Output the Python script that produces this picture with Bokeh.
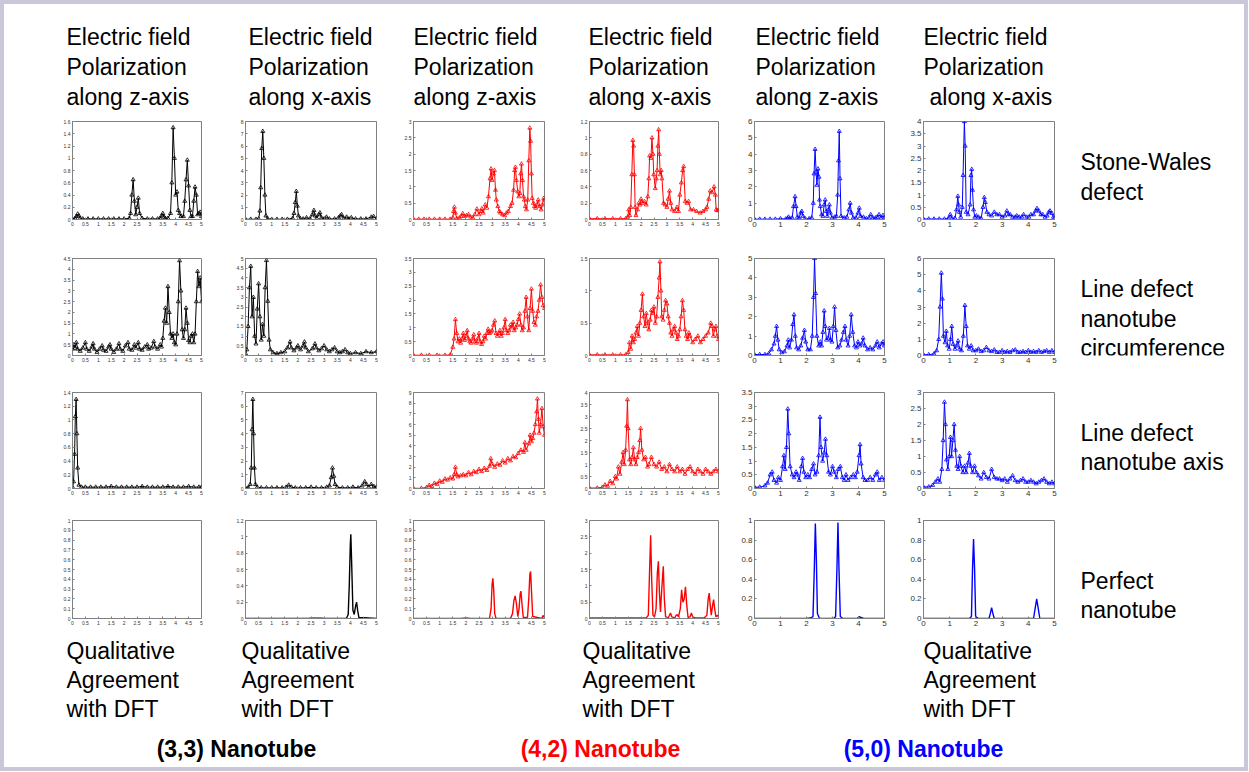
from bokeh.plotting import figure
from bokeh.layouts import row, column
from bokeh.models import Range1d, FixedTicker, NumeralTickFormatter, Label
from bokeh.core.properties import value
from bokeh.embed import file_html
from bokeh.resources import INLINE

FONT = "Liberation Sans"

# ---------------- texts ----------------
col_titles = [
    ["Electric field", "Polarization", "along z-axis"],
    ["Electric field", "Polarization", "along x-axis"],
    ["Electric field", "Polarization", "along z-axis"],
    ["Electric field", "Polarization", "along x-axis"],
    ["Electric field", "Polarization", "along z-axis"],
    ["Electric field", "Polarization", "along x-axis"],
]
row_labels = [
    ["Stone-Wales", "defect"],
    ["Line defect", "nanotube", "circumference"],
    ["Line defect", "nanotube axis"],
    ["Perfect", "nanotube"],
]
agreement_text = ["Qualitative", "Agreement", "with DFT"]
agreement_cols = [0, 1, 3, 5]
nanotube_names = ["(3,3) Nanotube", "(4,2) Nanotube", "(5,0) Nanotube"]
nanotube_colors = ["#000000", "#ff0000", "#0000ff"]
column_colors = ["#000000", "#000000", "#ff0000", "#ff0000", "#0000ff", "#0000ff"]

x_ticks_fine = [0, 0.5, 1, 1.5, 2, 2.5, 3, 3.5, 4, 4.5, 5]
x_ticks_coarse = [0, 1, 2, 3, 4, 5]

# ---------------- data (omega [eV], spectrum in units of the exponent) ----------------
# Row 1: Stone-Wales defect
sw_33_z = [(0,0.01),(0.1,0.02),(0.15,0.05),(0.2,0.09),(0.25,0.06),(0.3,0.02),(0.4,0.01),(0.6,0.01),(0.8,0.01),(1.0,0.01),(1.2,0.01),(1.4,0.01),(1.6,0.01),(1.8,0.01),(2.0,0.01),(2.2,0.02),(2.25,0.1),(2.3,0.4),(2.35,0.65),(2.4,0.3),(2.45,0.08),(2.5,0.2),(2.55,0.35),(2.6,0.1),(2.7,0.02),(2.9,0.01),(3.1,0.01),(3.3,0.01),(3.4,0.02),(3.45,0.06),(3.5,0.1),(3.55,0.04),(3.6,0.02),(3.7,0.02),(3.8,0.1),(3.85,0.6),(3.9,1.5),(3.95,1.0),(4.0,0.4),(4.05,0.45),(4.1,0.15),(4.15,0.1),(4.2,0.05),(4.3,0.05),(4.35,0.3),(4.4,0.65),(4.45,0.97),(4.5,0.55),(4.55,0.15),(4.6,0.05),(4.65,0.05),(4.7,0.3),(4.75,0.53),(4.8,0.4),(4.85,0.08),(4.9,0.1),(4.95,0.12),(5.0,0.05)]
sw_33_x = [(0,0.02),(0.2,0.02),(0.4,0.02),(0.5,0.05),(0.55,0.7),(0.58,2.6),(0.62,5.8),(0.66,7.2),(0.7,5.0),(0.74,2.0),(0.78,0.3),(0.85,0.05),(1.0,0.02),(1.2,0.02),(1.4,0.02),(1.6,0.02),(1.8,0.1),(1.85,0.5),(1.9,1.4),(1.94,2.3),(1.98,1.1),(2.02,0.3),(2.1,0.05),(2.2,0.05),(2.33,0.15),(2.45,0.05),(2.55,0.4),(2.61,0.75),(2.66,0.3),(2.72,0.1),(2.8,0.4),(2.84,0.55),(2.9,0.15),(3.0,0.05),(3.09,0.2),(3.2,0.05),(3.4,0.05),(3.55,0.15),(3.62,0.3),(3.67,0.4),(3.75,0.1),(3.86,0.2),(3.95,0.05),(4.04,0.15),(4.2,0.05),(4.4,0.05),(4.6,0.05),(4.8,0.2),(4.89,0.25),(5.0,0.05)]
sw_42_z = [(0,0.01),(0.2,0.01),(0.4,0.01),(0.6,0.01),(0.8,0.01),(1.0,0.01),(1.2,0.01),(1.4,0.01),(1.5,0.05),(1.53,0.25),(1.56,0.38),(1.6,0.2),(1.65,0.03),(1.75,0.05),(1.82,0.1),(1.88,0.18),(1.95,0.1),(2.02,0.12),(2.1,0.15),(2.18,0.08),(2.26,0.05),(2.34,0.15),(2.42,0.32),(2.5,0.15),(2.56,0.25),(2.61,0.33),(2.66,0.2),(2.74,0.45),(2.8,0.35),(2.86,0.7),(2.92,1.25),(2.96,1.55),(3.0,1.2),(3.05,1.4),(3.09,1.5),(3.13,0.9),(3.16,0.6),(3.22,0.4),(3.28,0.25),(3.32,0.2),(3.4,0.15),(3.48,0.12),(3.55,0.2),(3.62,0.25),(3.7,0.4),(3.76,0.5),(3.82,0.9),(3.86,1.5),(3.89,1.6),(3.93,1.2),(3.98,0.85),(4.02,0.7),(4.06,0.8),(4.09,1.4),(4.12,1.7),(4.16,1.2),(4.2,0.7),(4.23,0.6),(4.27,0.4),(4.31,0.3),(4.36,0.6),(4.4,1.8),(4.44,2.8),(4.47,2.4),(4.5,1.4),(4.53,0.65),(4.58,0.5),(4.62,0.4),(4.66,0.35),(4.71,0.45),(4.76,0.6),(4.82,0.4),(4.87,0.3),(4.92,0.45),(4.97,0.65),(5.0,0.6)]
sw_42_x = [(0,0.01),(0.3,0.01),(0.6,0.01),(0.9,0.01),(1.2,0.01),(1.4,0.01),(1.48,0.03),(1.52,0.12),(1.56,0.05),(1.6,0.15),(1.64,0.55),(1.68,0.97),(1.71,0.9),(1.74,0.55),(1.77,0.15),(1.8,0.05),(1.86,0.12),(1.91,0.2),(1.96,0.18),(2.0,0.25),(2.06,0.2),(2.13,0.22),(2.2,0.18),(2.26,0.28),(2.3,0.5),(2.33,0.78),(2.38,0.75),(2.42,1.0),(2.46,0.8),(2.49,0.55),(2.55,0.38),(2.59,0.5),(2.62,0.6),(2.65,0.9),(2.68,1.1),(2.71,0.8),(2.74,0.55),(2.78,0.6),(2.81,0.5),(2.87,0.2),(2.93,0.18),(3.0,0.15),(3.05,0.25),(3.1,0.35),(3.15,0.2),(3.2,0.12),(3.3,0.1),(3.39,0.15),(3.45,0.1),(3.5,0.3),(3.56,0.45),(3.61,0.6),(3.65,0.65),(3.71,0.22),(3.78,0.2),(3.84,0.22),(3.92,0.12),(4.03,0.12),(4.15,0.1),(4.29,0.08),(4.4,0.1),(4.5,0.12),(4.55,0.15),(4.62,0.25),(4.68,0.35),(4.75,0.33),(4.83,0.4),(4.88,0.3),(4.91,0.12),(4.96,0.11),(5.0,0.11)]
sw_50_z = [(0,0.02),(0.2,0.02),(0.4,0.02),(0.6,0.02),(0.8,0.02),(1.0,0.05),(1.2,0.03),(1.27,0.08),(1.31,0.15),(1.36,0.05),(1.45,0.1),(1.5,0.8),(1.56,1.4),(1.6,0.8),(1.65,0.15),(1.72,0.1),(1.78,0.4),(1.82,0.5),(1.87,0.2),(1.95,0.05),(2.1,0.05),(2.2,0.1),(2.26,1.0),(2.29,2.8),(2.33,4.3),(2.37,2.9),(2.4,2.1),(2.44,3.1),(2.48,2.6),(2.5,1.2),(2.53,0.8),(2.58,0.3),(2.63,0.2),(2.68,0.9),(2.72,1.2),(2.76,0.5),(2.8,0.2),(2.84,0.6),(2.88,0.9),(2.92,0.4),(2.98,0.1),(3.08,0.15),(3.15,0.2),(3.2,1.5),(3.23,3.6),(3.26,5.4),(3.29,2.5),(3.33,0.2),(3.45,0.1),(3.55,0.15),(3.63,0.6),(3.68,1.0),(3.73,0.4),(3.8,0.1),(3.9,0.1),(3.98,0.4),(4.03,0.7),(4.08,0.2),(4.19,0.15),(4.3,0.05),(4.4,0.1),(4.47,0.3),(4.55,0.1),(4.65,0.1),(4.72,0.15),(4.79,0.3),(4.87,0.1),(4.94,0.25),(5.0,0.1)]
sw_50_x = [(0,0.02),(0.2,0.02),(0.4,0.02),(0.6,0.02),(0.8,0.02),(0.95,0.05),(1.02,0.2),(1.08,0.05),(1.2,0.05),(1.26,0.4),(1.31,0.95),(1.34,0.6),(1.37,0.3),(1.42,0.1),(1.48,0.5),(1.51,1.8),(1.56,4.0),(1.59,3.0),(1.63,0.3),(1.7,0.2),(1.78,0.6),(1.81,1.8),(1.84,2.05),(1.87,1.2),(1.91,0.4),(1.96,0.1),(2.02,0.15),(2.1,0.1),(2.2,0.05),(2.27,0.5),(2.32,0.9),(2.36,0.7),(2.42,0.3),(2.5,0.2),(2.6,0.15),(2.7,0.3),(2.8,0.2),(2.9,0.2),(3.0,0.1),(3.1,0.15),(3.18,0.35),(3.25,0.2),(3.31,0.2),(3.4,0.1),(3.5,0.1),(3.56,0.15),(3.65,0.1),(3.75,0.1),(3.82,0.2),(3.94,0.1),(4.02,0.1),(4.1,0.2),(4.2,0.2),(4.28,0.35),(4.33,0.45),(4.4,0.35),(4.48,0.2),(4.55,0.2),(4.64,0.1),(4.72,0.15),(4.78,0.3),(4.83,0.35),(4.9,0.25),(4.96,0.1),(5.0,0.05)]

# Row 2: line defect along circumference
circ_33_z = [(0,0.3),(0.05,0.5),(0.1,0.35),(0.15,0.6),(0.2,0.3),(0.3,0.2),(0.4,0.35),(0.5,0.6),(0.55,0.3),(0.65,0.2),(0.75,0.4),(0.8,0.55),(0.85,0.3),(0.95,0.15),(1.05,0.3),(1.15,0.45),(1.2,0.25),(1.3,0.2),(1.4,0.4),(1.45,0.5),(1.5,0.3),(1.6,0.15),(1.7,0.3),(1.8,0.55),(1.85,0.3),(1.95,0.2),(2.05,0.45),(2.15,0.6),(2.2,0.3),(2.3,0.25),(2.4,0.5),(2.45,0.35),(2.55,0.6),(2.6,0.3),(2.7,0.25),(2.8,0.4),(2.9,0.5),(2.95,0.3),(3.05,0.35),(3.15,0.65),(3.2,0.4),(3.3,0.3),(3.4,0.5),(3.45,0.4),(3.5,0.8),(3.55,1.6),(3.6,2.2),(3.65,1.5),(3.7,3.2),(3.75,2.0),(3.8,1.0),(3.85,0.8),(3.9,1.0),(3.95,0.6),(4.0,0.5),(4.05,1.0),(4.1,2.5),(4.15,4.4),(4.2,3.0),(4.25,1.2),(4.3,0.8),(4.35,1.2),(4.4,2.2),(4.45,1.5),(4.5,0.7),(4.55,0.6),(4.6,0.9),(4.65,1.0),(4.7,0.6),(4.75,1.0),(4.8,2.5),(4.85,3.9),(4.9,3.2),(4.95,3.6),(5.0,2.5)]
circ_33_x = [(0,0.1),(0.05,0.3),(0.1,1.5),(0.15,3.5),(0.2,4.6),(0.25,2.0),(0.3,3.0),(0.35,1.0),(0.4,0.6),(0.45,2.4),(0.5,3.7),(0.55,2.0),(0.6,0.8),(0.65,1.6),(0.7,1.0),(0.75,3.5),(0.8,4.9),(0.85,2.8),(0.9,0.8),(0.95,0.3),(1.05,0.15),(1.2,0.1),(1.35,0.15),(1.5,0.2),(1.6,0.4),(1.7,0.7),(1.75,0.4),(1.85,0.25),(1.95,0.4),(2.0,0.5),(2.1,0.3),(2.2,0.5),(2.25,0.7),(2.3,0.4),(2.4,0.2),(2.55,0.35),(2.65,0.6),(2.7,0.4),(2.8,0.25),(2.9,0.35),(3.0,0.5),(3.1,0.3),(3.2,0.2),(3.3,0.3),(3.4,0.4),(3.5,0.2),(3.6,0.15),(3.7,0.2),(3.8,0.3),(3.9,0.15),(4.0,0.1),(4.2,0.15),(4.4,0.1),(4.6,0.2),(4.8,0.15),(5.0,0.2)]
circ_42_z = [(0,0.01),(0.3,0.01),(0.6,0.01),(0.9,0.01),(1.2,0.01),(1.4,0.02),(1.5,0.3),(1.55,0.6),(1.6,1.3),(1.65,0.8),(1.7,0.5),(1.75,0.6),(1.8,0.45),(1.85,0.6),(1.9,0.8),(1.95,0.55),(2.0,0.7),(2.05,0.9),(2.1,0.6),(2.15,0.5),(2.2,0.45),(2.25,0.6),(2.3,0.75),(2.35,0.5),(2.4,0.45),(2.45,0.6),(2.5,0.8),(2.55,0.5),(2.6,0.4),(2.65,0.5),(2.7,0.7),(2.75,0.6),(2.8,0.8),(2.85,0.95),(2.9,0.8),(2.95,0.85),(3.0,0.9),(3.05,1.1),(3.1,1.25),(3.15,0.8),(3.2,0.7),(3.25,0.8),(3.3,0.9),(3.35,0.7),(3.4,0.8),(3.45,1.0),(3.5,1.3),(3.55,0.9),(3.6,0.8),(3.65,0.9),(3.7,1.1),(3.75,1.0),(3.8,1.2),(3.85,0.9),(3.9,1.0),(3.95,1.1),(4.0,1.3),(4.05,1.5),(4.1,1.1),(4.15,0.9),(4.2,1.0),(4.25,1.6),(4.3,2.1),(4.35,1.4),(4.4,0.9),(4.45,1.7),(4.5,2.4),(4.55,1.6),(4.6,1.2),(4.65,1.1),(4.7,1.4),(4.75,1.6),(4.8,2.0),(4.85,2.55),(4.9,2.1),(4.95,1.8),(5.0,1.7)]
circ_42_x = [(0,0.01),(0.3,0.01),(0.6,0.01),(0.9,0.01),(1.2,0.01),(1.4,0.01),(1.5,0.05),(1.55,0.2),(1.6,0.1),(1.65,0.3),(1.7,0.2),(1.75,0.25),(1.8,0.35),(1.85,0.45),(1.9,0.3),(1.95,0.5),(2.0,0.7),(2.05,0.95),(2.1,0.6),(2.15,0.45),(2.2,0.65),(2.25,0.5),(2.3,0.4),(2.35,0.55),(2.4,0.7),(2.45,0.65),(2.5,0.75),(2.55,0.5),(2.6,0.6),(2.65,0.9),(2.7,1.2),(2.73,1.45),(2.77,1.0),(2.8,0.6),(2.85,0.55),(2.9,0.7),(2.95,0.85),(3.0,0.8),(3.05,0.6),(3.1,0.5),(3.15,0.35),(3.2,0.3),(3.25,0.4),(3.3,0.45),(3.35,0.35),(3.4,0.25),(3.45,0.3),(3.5,0.4),(3.55,0.6),(3.6,0.85),(3.65,0.7),(3.7,0.4),(3.75,0.3),(3.8,0.25),(3.85,0.35),(3.9,0.3),(4.0,0.2),(4.1,0.25),(4.2,0.3),(4.3,0.2),(4.4,0.25),(4.5,0.3),(4.6,0.35),(4.7,0.5),(4.75,0.45),(4.8,0.3),(4.85,0.4),(4.9,0.45),(4.95,0.3),(5.0,0.25)]
circ_50_z = [(0,0.05),(0.2,0.05),(0.4,0.05),(0.55,0.1),(0.65,0.3),(0.75,0.6),(0.8,1.0),(0.85,1.5),(0.9,0.8),(0.95,0.3),(1.05,0.15),(1.15,0.2),(1.25,0.5),(1.3,0.8),(1.35,0.4),(1.42,0.8),(1.47,1.6),(1.52,2.1),(1.57,1.0),(1.62,0.4),(1.7,0.3),(1.78,0.5),(1.85,0.9),(1.92,1.3),(1.97,0.7),(2.05,0.3),(2.15,0.3),(2.22,1.0),(2.27,3.0),(2.31,5.0),(2.35,3.2),(2.4,1.0),(2.47,0.5),(2.53,0.7),(2.58,0.5),(2.63,1.2),(2.68,2.3),(2.72,1.5),(2.77,0.8),(2.83,0.9),(2.88,1.4),(2.93,0.8),(2.98,0.7),(3.03,1.5),(3.08,2.5),(3.13,1.3),(3.2,0.4),(3.28,0.5),(3.35,0.8),(3.42,1.2),(3.48,1.5),(3.53,0.8),(3.6,0.5),(3.66,1.0),(3.72,2.1),(3.78,1.2),(3.85,0.5),(3.92,0.4),(3.98,0.7),(4.05,0.5),(4.12,0.6),(4.18,0.9),(4.25,0.5),(4.35,0.3),(4.45,0.4),(4.55,0.3),(4.65,0.5),(4.72,0.7),(4.8,0.4),(4.88,0.6),(4.95,0.7),(5.0,0.5)]
circ_50_x = [(0,0.05),(0.2,0.05),(0.4,0.1),(0.5,0.3),(0.58,1.0),(0.63,3.0),(0.68,5.1),(0.72,3.5),(0.76,1.2),(0.82,0.8),(0.87,1.5),(0.92,0.6),(0.98,0.4),(1.03,1.0),(1.08,1.8),(1.13,0.7),(1.2,0.4),(1.26,0.6),(1.32,0.9),(1.38,0.4),(1.45,0.3),(1.52,1.2),(1.58,3.1),(1.63,1.8),(1.68,0.6),(1.75,0.4),(1.82,0.6),(1.9,0.3),(2.0,0.3),(2.1,0.4),(2.2,0.25),(2.3,0.3),(2.4,0.5),(2.5,0.3),(2.6,0.25),(2.7,0.35),(2.8,0.2),(2.9,0.2),(3.0,0.3),(3.1,0.2),(3.2,0.25),(3.3,0.2),(3.4,0.3),(3.5,0.35),(3.6,0.2),(3.7,0.2),(3.8,0.25),(3.9,0.2),(4.0,0.3),(4.1,0.2),(4.2,0.25),(4.3,0.2),(4.4,0.3),(4.5,0.2),(4.6,0.25),(4.7,0.3),(4.8,0.2),(4.9,0.3),(5.0,0.2)]

# Row 3: line defect along nanotube axis
axis_33_z = [(0,0.02),(0.04,0.1),(0.08,0.5),(0.11,1.05),(0.14,1.3),(0.17,0.8),(0.2,0.3),(0.25,0.05),(0.35,0.02),(0.5,0.02),(0.7,0.02),(0.9,0.02),(1.1,0.02),(1.3,0.02),(1.5,0.03),(1.7,0.02),(1.9,0.02),(2.1,0.02),(2.3,0.02),(2.5,0.02),(2.7,0.03),(2.9,0.02),(3.1,0.02),(3.3,0.02),(3.5,0.02),(3.7,0.03),(3.9,0.02),(4.1,0.02),(4.3,0.02),(4.5,0.03),(4.7,0.02),(4.9,0.02),(5.0,0.02)]
axis_33_x = [(0,0.05),(0.1,0.05),(0.18,0.3),(0.22,1.5),(0.25,4.3),(0.28,6.5),(0.31,4.0),(0.34,1.5),(0.38,0.3),(0.45,0.1),(0.6,0.05),(0.8,0.05),(1.0,0.05),(1.2,0.05),(1.4,0.05),(1.55,0.1),(1.65,0.25),(1.75,0.1),(1.9,0.05),(2.1,0.05),(2.3,0.05),(2.5,0.1),(2.7,0.05),(2.9,0.05),(3.1,0.1),(3.2,0.2),(3.27,0.8),(3.32,1.5),(3.37,0.9),(3.42,0.3),(3.5,0.1),(3.7,0.05),(3.9,0.05),(4.1,0.1),(4.3,0.05),(4.45,0.2),(4.55,0.5),(4.62,0.3),(4.7,0.1),(4.8,0.3),(4.9,0.15),(5.0,0.1)]
axis_42_z = [(0,0.02),(0.3,0.02),(0.5,0.1),(0.6,0.3),(0.7,0.2),(0.8,0.5),(0.9,0.4),(1.0,0.7),(1.1,0.6),(1.2,0.9),(1.3,0.8),(1.4,1.0),(1.5,0.9),(1.55,1.3),(1.6,2.0),(1.65,1.3),(1.7,1.1),(1.8,1.2),(1.9,1.3),(2.0,1.2),(2.1,1.5),(2.2,1.3),(2.3,1.6),(2.4,1.5),(2.5,1.8),(2.6,1.6),(2.7,1.9),(2.8,1.7),(2.9,2.1),(2.95,2.8),(3.0,2.3),(3.1,2.0),(3.2,2.3),(3.3,2.2),(3.4,2.6),(3.5,2.4),(3.6,2.8),(3.7,2.6),(3.8,3.0),(3.9,2.9),(4.0,3.3),(4.1,3.6),(4.2,3.4),(4.25,4.3),(4.3,3.6),(4.4,4.2),(4.45,5.0),(4.5,4.4),(4.55,4.7),(4.6,5.2),(4.65,6.0),(4.7,7.2),(4.73,8.4),(4.77,6.5),(4.8,5.2),(4.85,6.0),(4.9,7.5),(4.95,5.8),(5.0,5.0)]
axis_42_x = [(0,0.02),(0.3,0.02),(0.5,0.05),(0.6,0.15),(0.7,0.1),(0.8,0.3),(0.9,0.2),(1.0,0.5),(1.05,0.4),(1.12,0.9),(1.18,0.6),(1.25,1.1),(1.3,1.5),(1.35,1.0),(1.4,1.6),(1.44,2.6),(1.47,3.7),(1.5,2.5),(1.55,1.2),(1.6,1.0),(1.65,1.3),(1.7,1.7),(1.75,1.2),(1.8,1.0),(1.85,1.3),(1.9,1.5),(1.95,2.0),(1.98,2.5),(2.03,1.6),(2.1,1.2),(2.17,1.3),(2.25,0.9),(2.3,1.0),(2.4,1.3),(2.5,1.0),(2.6,0.9),(2.7,1.1),(2.8,0.8),(2.9,0.9),(3.0,0.7),(3.1,1.0),(3.2,0.8),(3.3,0.7),(3.4,0.9),(3.5,0.7),(3.6,0.8),(3.7,0.6),(3.8,0.8),(3.9,0.9),(4.0,0.7),(4.1,0.6),(4.2,0.8),(4.3,0.7),(4.4,0.6),(4.5,0.8),(4.6,0.7),(4.7,0.6),(4.8,0.7),(4.9,0.8),(5.0,0.7)]
axis_50_z = [(0,0.05),(0.2,0.05),(0.4,0.1),(0.5,0.2),(0.6,0.5),(0.68,0.6),(0.75,0.3),(0.85,0.2),(0.92,0.4),(1.0,0.3),(1.08,0.8),(1.13,1.2),(1.18,0.7),(1.23,1.5),(1.28,2.9),(1.32,2.0),(1.37,0.8),(1.45,0.5),(1.52,0.4),(1.6,0.6),(1.65,0.5),(1.72,0.3),(1.8,0.8),(1.85,1.1),(1.9,0.6),(1.97,0.4),(2.05,0.5),(2.12,0.4),(2.2,0.7),(2.27,0.9),(2.33,0.5),(2.4,0.6),(2.47,1.2),(2.52,2.6),(2.56,1.5),(2.62,1.0),(2.68,1.3),(2.73,1.8),(2.78,1.2),(2.85,0.6),(2.92,0.5),(3.0,0.8),(3.07,0.6),(3.15,0.4),(3.22,0.7),(3.3,0.8),(3.38,0.4),(3.45,0.3),(3.52,0.5),(3.6,0.3),(3.7,0.4),(3.8,0.5),(3.88,0.4),(3.95,0.6),(4.02,1.2),(4.06,1.6),(4.1,0.9),(4.18,0.4),(4.25,0.3),(4.35,0.3),(4.45,0.4),(4.55,0.3),(4.65,0.5),(4.72,0.6),(4.8,0.3),(4.9,0.4),(5.0,0.3)]
axis_50_x = [(0,0.05),(0.2,0.05),(0.35,0.1),(0.45,0.2),(0.55,0.3),(0.62,0.2),(0.7,0.6),(0.75,1.5),(0.8,2.7),(0.84,2.0),(0.88,0.9),(0.93,0.6),(0.98,1.0),(1.03,1.6),(1.07,1.0),(1.12,1.5),(1.17,2.0),(1.22,1.2),(1.27,0.7),(1.32,0.6),(1.38,1.0),(1.43,0.7),(1.5,0.5),(1.57,0.7),(1.63,0.5),(1.7,0.8),(1.75,1.1),(1.8,0.7),(1.87,0.5),(1.95,0.7),(2.02,0.5),(2.1,0.4),(2.2,0.3),(2.3,0.5),(2.4,0.35),(2.5,0.3),(2.6,0.6),(2.7,0.35),(2.8,0.3),(2.9,0.3),(3.0,0.25),(3.1,0.3),(3.2,0.2),(3.3,0.3),(3.4,0.4),(3.5,0.25),(3.6,0.2),(3.7,0.25),(3.8,0.3),(3.9,0.2),(4.0,0.2),(4.1,0.25),(4.2,0.2),(4.3,0.15),(4.4,0.2),(4.5,0.25),(4.6,0.3),(4.7,0.2),(4.8,0.15),(4.9,0.2),(5.0,0.15)]

# Row 4: perfect nanotube (DFT-like, no markers)
perfect_33_z = []
perfect_33_x = [(0,0),(2.4,0),(2.5,0.005),(2.9,0.005),(3.0,0),(3.85,0),(3.92,0.05),(3.96,0.4),(4.0,0.9),(4.02,1.03),(4.05,0.7),(4.1,0.1),(4.15,0.05),(4.2,0.15),(4.24,0.2),(4.28,0.1),(4.33,0.01),(4.5,0.01),(5.0,0)]
perfect_42_z = [(0,0),(1.8,0),(2.0,0.005),(2.2,0),(2.9,0),(2.96,0.1),(3.0,0.35),(3.03,0.41),(3.06,0.3),(3.1,0.05),(3.15,0),(3.7,0),(3.78,0.05),(3.83,0.18),(3.88,0.23),(3.93,0.15),(3.98,0.02),(4.03,0.1),(4.07,0.25),(4.1,0.28),(4.14,0.15),(4.19,0.01),(4.35,0.01),(4.4,0.2),(4.44,0.45),(4.47,0.48),(4.5,0.3),(4.55,0.02),(4.9,0),(4.94,0.03),(5.0,0.01)]
perfect_42_x = [(0,0.02),(2.0,0.02),(2.2,0.02),(2.28,0.1),(2.33,1.5),(2.37,2.55),(2.41,1.2),(2.46,0.1),(2.52,0.05),(2.58,0.3),(2.63,1.4),(2.67,1.75),(2.71,0.8),(2.75,0.2),(2.8,0.9),(2.86,1.6),(2.9,0.6),(2.95,0.05),(3.05,0.02),(3.1,0.1),(3.14,0.17),(3.19,0.05),(3.3,0.02),(3.36,0.1),(3.4,0.12),(3.45,0.05),(3.52,0.3),(3.57,0.88),(3.62,0.5),(3.67,0.6),(3.72,0.97),(3.77,0.4),(3.82,0.03),(3.9,0.05),(3.95,0.17),(4.0,0.05),(4.1,0.02),(4.45,0.02),(4.55,0.1),(4.6,0.6),(4.64,0.78),(4.68,0.4),(4.72,0.1),(4.77,0.4),(4.81,0.58),(4.85,0.3),(4.9,0.05),(4.96,0.1),(5.0,0.05)]
perfect_50_z = [(0,0),(2.0,0),(2.15,0.005),(2.25,0.02),(2.3,0.5),(2.34,0.97),(2.38,0.6),(2.42,0.05),(2.5,0),(3.05,0),(3.12,0.02),(3.17,0.5),(3.21,0.98),(3.25,0.5),(3.3,0.02),(3.4,0),(3.95,0),(4.03,0.02),(4.1,0.01),(4.2,0),(5.0,0)]
perfect_50_x = [(0,0),(1.75,0),(1.83,0.02),(1.87,0.5),(1.91,0.81),(1.95,0.5),(1.99,0.02),(2.1,0),(2.5,0),(2.55,0.05),(2.6,0.11),(2.65,0.05),(2.7,0),(4.2,0),(4.26,0.1),(4.32,0.2),(4.38,0.1),(4.44,0),(5.0,0)]

# y-axis limits, y-tick step and exponent label per panel
y_max = [[1.6, 8, 3, 1.2, 6, 4],
         [4.5, 5, 3.5, 1.5, 5, 6],
         [1.4, 7, 9, 4, 3.5, 3],
         [1, 1.2, 1, 3, 1, 1]]
y_step = [[0.2, 1, 0.5, 0.2, 1, 0.5],
          [0.5, 0.5, 0.5, 0.5, 1, 1],
          [0.2, 1, 1, 0.5, 0.5, 0.5],
          [0.1, 0.2, 0.1, 0.5, 0.2, 0.2]]
exponents = [["x 10⁻⁷", "x 10⁻⁸", "x 10⁻⁷", "x 10⁻⁸", "x 10⁻⁷", "x 10⁻⁶"],
             ["x 10⁻⁸", "x 10⁻⁸", "x 10⁻⁷", "x 10⁻⁸", "x 10⁻⁷", "x 10⁻⁶"],
             ["x 10⁻⁶", "x 10⁻⁸", "x 10⁻⁸", "x 10⁻⁸", "x 10⁻⁷", "x 10⁻⁶"],
             ["x 10⁻⁸", "x 10⁻⁸", "x 10⁻⁸", "x 10⁻⁸", "x 10⁻⁶", "x 10⁻⁵"]]

panels = [[sw_33_z, sw_33_x, sw_42_z, sw_42_x, sw_50_z, sw_50_x],
          [circ_33_z, circ_33_x, circ_42_z, circ_42_x, circ_50_z, circ_50_x],
          [axis_33_z, axis_33_x, axis_42_z, axis_42_x, axis_50_z, axis_50_x],
          [perfect_33_z, perfect_33_x, perfect_42_z, perfect_42_x, perfect_50_z, perfect_50_x]]

# ---------------- geometry (page pixels) ----------------
BORDER = 4
X0, Y0 = BORDER, BORDER
fig_x = [X0, 225, 395, 565, 736, 903, 1070, 1244]
frame_x = [(72, 201), (245, 376), (413, 544), (589, 718), (754, 884), (923, 1054)]
row_y = [110, 245, 380, 508, 636]
Y_END = 767
frame_y_small = [(121, 222), (258, 357), (392, 491), (520, 621)]
frame_y_big = [(121, 219), (257, 355), (390, 488), (520, 618)]
TOTAL_W = fig_x[-1] - X0
HEADER_H = row_y[0] - Y0
BOTTOM_H = Y_END - row_y[4]
AXIS_GREY = "#808080"


def text_fig(w, h, top=0, bottom=0, y0=0):
    # y range expressed in page pixels (top of frame = y0 + top)
    p = figure(width=w, height=h, x_range=Range1d(0, w),
               y_range=Range1d(y0 + h - bottom, y0 + top),
               x_axis_type=None, y_axis_type=None, toolbar_location=None,
               output_backend="svg", min_border=0,
               min_border_top=top, min_border_bottom=bottom)
    p.outline_line_color = None
    p.grid.visible = False
    return p


def yticks(ymax, step):
    n = int(round(ymax / step))
    return [round(i * step, 6) for i in range(n + 1)]


def panel(r, c):
    big = c >= 4
    fy = frame_y_big[r] if big else frame_y_small[r]
    w = fig_x[c + 1] - fig_x[c]
    h = row_y[r + 1] - row_y[r]
    p = figure(width=w, height=h, toolbar_location=None, output_backend="svg",
               x_range=Range1d(0, 5), y_range=Range1d(0, y_max[r][c]),
               min_border_left=frame_x[c][0] - fig_x[c],
               min_border_right=fig_x[c + 1] - frame_x[c][1],
               min_border_top=fy[0] - row_y[r],
               min_border_bottom=row_y[r + 1] - fy[1])
    p.grid.visible = False
    p.outline_line_color = AXIS_GREY
    p.background_fill_color = "white"
    fs = "8px" if big else "5px"
    p.xaxis.ticker = FixedTicker(ticks=x_ticks_coarse if big else x_ticks_fine)
    p.yaxis.ticker = FixedTicker(ticks=yticks(y_max[r][c], y_step[r][c]))
    for ax in (p.xaxis[0], p.yaxis[0]):
        ax.formatter = NumeralTickFormatter(format="0.[0]")
        ax.major_label_text_font = FONT
        ax.major_label_text_font_size = fs
        ax.major_label_text_color = "#333333"
        ax.major_label_standoff = 2
        ax.major_tick_in = 2
        ax.major_tick_out = 0
        ax.minor_tick_line_color = None
        ax.axis_line_color = AXIS_GREY
        ax.major_tick_line_color = AXIS_GREY
    data = panels[r][c]
    color = column_colors[c]
    if data:
        xs = [d[0] for d in data]
        ys = [d[1] for d in data]
        if r < 3:
            p.line(xs, ys, line_color=color, line_width=1)
            p.scatter(xs, ys, marker="triangle", size=4, fill_color=None,
                      line_color=color, line_width=0.8)
        else:
            p.line(xs, ys, line_color=color, line_width=1.4)
    p.add_layout(Label(x=0, y=y_max[r][c], text=exponents[r][c], y_offset=1,
                       text_font=FONT, text_font_size="7px" if big else "5px",
                       text_baseline="bottom", text_align="left", text_color="#333333"))
    if big:
        p.add_layout(Label(x=2.5, y=0, text="ω [eV]", y_offset=-11,
                           text_font=FONT, text_font_size="10px",
                           text_baseline="middle", text_align="center", text_color="#222222"))
    return p


# ---------------- header ----------------
header = text_fig(TOTAL_W, HEADER_H, y0=Y0)
head_x = [66, 248, 413, 588, 755, 923]
hx, hy, ht = [], [], []
for c, lines in enumerate(col_titles):
    for k, t in enumerate(lines):
        shift = 6 if (c == 5 and k == 2) else 0
        hx.append(head_x[c] + shift - X0)
        hy.append(36 + 30 * k)
        ht.append(t)
header.text(x=hx, y=hy, text=ht, text_font=value(FONT), text_font_size="23px",
            text_baseline="middle", text_align="left", text_color="black")

# ---------------- plot rows ----------------
label_line_y = [[161, 191], [288, 318, 347], [431, 461], [580, 609]]
rows = []
for r in range(4):
    figs = [panel(r, c) for c in range(6)]
    h = row_y[r + 1] - row_y[r]
    fy = frame_y_big[r]
    lab = text_fig(fig_x[7] - fig_x[6], h, top=fy[0] - row_y[r],
                   bottom=row_y[r + 1] - fy[1], y0=row_y[r])
    lab.text(x=[1080 - fig_x[6]] * len(row_labels[r]), y=label_line_y[r],
             text=row_labels[r], text_font=value(FONT), text_font_size="23px",
             text_baseline="middle", text_align="left", text_color="black")
    rows.append(row(*figs, lab))

# ---------------- bottom ----------------
bottom = text_fig(TOTAL_W, BOTTOM_H, y0=row_y[4])
agree_x = [66, 241, 582, 923]
bx, by, bt = [], [], []
for i, c in enumerate(agreement_cols):
    for k, t in enumerate(agreement_text):
        bx.append(agree_x[i] - X0)
        by.append(650 + 29 * k)
        bt.append(t)
bottom.text(x=bx, y=by, text=bt, text_font=value(FONT), text_font_size="23px",
            text_baseline="middle", text_align="left", text_color="black")
foot_x = [236, 600, 923]
bottom.text(x=[fx - X0 for fx in foot_x], y=[748] * 3, text=nanotube_names,
            text_font=value(FONT), text_font_size="23px", text_font_style="bold",
            text_baseline="middle", text_align="center", text_color=nanotube_colors)

layout = column(header, *rows, bottom,
                styles={"border": f"{BORDER}px solid #c8c8d8", "background-color": "white"})

open("out.html", "w").write(file_html(layout, INLINE))
